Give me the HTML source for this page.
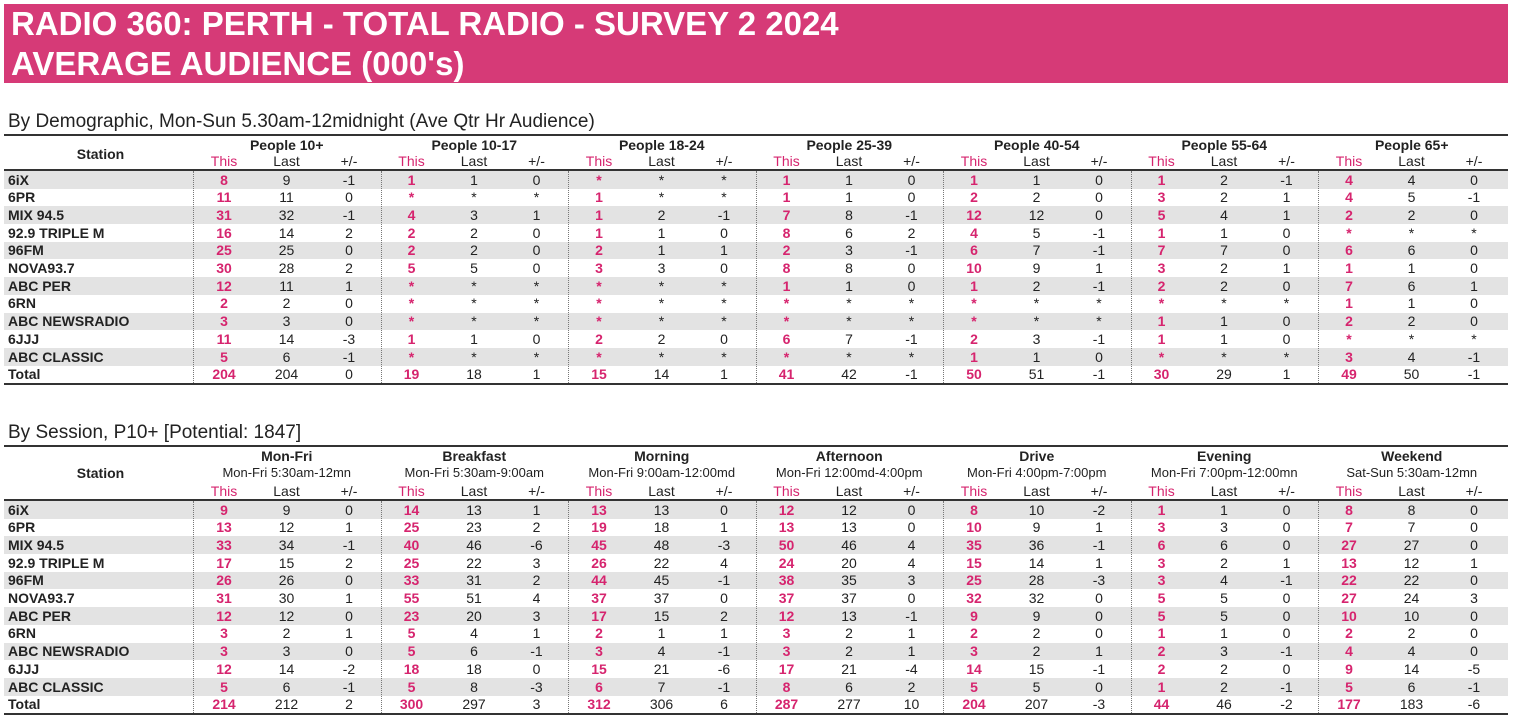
<!DOCTYPE html>
<html><head><meta charset="utf-8">
<style>
body{margin:0;width:1515px;height:724px;background:#fff;position:relative;overflow:hidden;font-family:"Liberation Sans",sans-serif;color:#222}
.a{position:absolute;white-space:nowrap}
#banner{left:4px;top:4px;width:1504px;height:79px;background:#d63a77;color:#fff;font-weight:bold;font-size:33px;line-height:40px;padding:0 0 0 7px;box-sizing:border-box}
.sec{font-size:19px;left:8px}
.hl{height:2px;background:#333;left:4px;width:1504px}
.c{text-align:center;font-size:14px}
.b{font-weight:bold}
.pk{color:#d6246e}
.row{left:4px;width:1504px;background:#e3e3e3}
.vd{width:0;border-left:1px dotted #777}
</style></head><body>
<div id="banner" class="a">RADIO 360: PERTH - TOTAL RADIO - SURVEY 2 2024<br>AVERAGE AUDIENCE (000's)</div>
<div class="a sec" style="top:111px">By Demographic, Mon-Sun 5.30am-12midnight (Ave Qtr Hr Audience)</div>
<div class="a sec" style="top:422px">By Session, P10+ [Potential: 1847]</div>
<script>
const stations=["6iX","6PR","MIX 94.5","92.9 TRIPLE M","96FM","NOVA93.7","ABC PER","6RN","ABC NEWSRADIO","6JJJ","ABC CLASSIC","Total"];
const demoGroups=["People 10+","People 10-17","People 18-24","People 25-39","People 40-54","People 55-64","People 65+"];
const sessGroups=["Mon-Fri","Breakfast","Morning","Afternoon","Drive","Evening","Weekend"];
const sessTimes=["Mon-Fri 5:30am-12mn","Mon-Fri 5:30am-9:00am","Mon-Fri 9:00am-12:00md","Mon-Fri 12:00md-4:00pm","Mon-Fri 4:00pm-7:00pm","Mon-Fri 7:00pm-12:00mn","Sat-Sun 5:30am-12mn"];
const demoData=[
"8 9 -1 1 1 0 * * * 1 1 0 1 1 0 1 2 -1 4 4 0",
"11 11 0 * * * 1 * * 1 1 0 2 2 0 3 2 1 4 5 -1",
"31 32 -1 4 3 1 1 2 -1 7 8 -1 12 12 0 5 4 1 2 2 0",
"16 14 2 2 2 0 1 1 0 8 6 2 4 5 -1 1 1 0 * * *",
"25 25 0 2 2 0 2 1 1 2 3 -1 6 7 -1 7 7 0 6 6 0",
"30 28 2 5 5 0 3 3 0 8 8 0 10 9 1 3 2 1 1 1 0",
"12 11 1 * * * * * * 1 1 0 1 2 -1 2 2 0 7 6 1",
"2 2 0 * * * * * * * * * * * * * * * 1 1 0",
"3 3 0 * * * * * * * * * * * * 1 1 0 2 2 0",
"11 14 -3 1 1 0 2 2 0 6 7 -1 2 3 -1 1 1 0 * * *",
"5 6 -1 * * * * * * * * * 1 1 0 * * * 3 4 -1",
"204 204 0 19 18 1 15 14 1 41 42 -1 50 51 -1 30 29 1 49 50 -1"];
const sessData=[
"9 9 0 14 13 1 13 13 0 12 12 0 8 10 -2 1 1 0 8 8 0",
"13 12 1 25 23 2 19 18 1 13 13 0 10 9 1 3 3 0 7 7 0",
"33 34 -1 40 46 -6 45 48 -3 50 46 4 35 36 -1 6 6 0 27 27 0",
"17 15 2 25 22 3 26 22 4 24 20 4 15 14 1 3 2 1 13 12 1",
"26 26 0 33 31 2 44 45 -1 38 35 3 25 28 -3 3 4 -1 22 22 0",
"31 30 1 55 51 4 37 37 0 37 37 0 32 32 0 5 5 0 27 24 3",
"12 12 0 23 20 3 17 15 2 12 13 -1 9 9 0 5 5 0 10 10 0",
"3 2 1 5 4 1 2 1 1 3 2 1 2 2 0 1 1 0 2 2 0",
"3 3 0 5 6 -1 3 4 -1 3 2 1 3 2 1 2 3 -1 4 4 0",
"12 14 -2 18 18 0 15 21 -6 17 21 -4 14 15 -1 2 2 0 9 14 -5",
"5 6 -1 5 8 -3 6 7 -1 8 6 2 5 5 0 1 2 -1 5 6 -1",
"214 212 2 300 297 3 312 306 6 287 277 10 204 207 -3 44 46 -2 177 183 -6"];
const subs=["This","Last","+/-"];
const G0=193,GW=187.5,RH=17.7;
function el(cls,style,txt,name,inter){const d=document.createElement('div');d.className='a '+cls;d.style.cssText=style;if(txt!==undefined)d.textContent=txt;


document.body.appendChild(d);return d;}
function colX(g,k){return G0+g*GW+31+k*62.5;}
function table(pfx,topLine,groups,times,subY,stY,data){
  el('hl','top:'+topLine+'px','',pfx+'-top-rule');
  const dataTop=subY+9;
  el('hl','top:'+(dataTop-2)+'px','',pfx+'-header-rule');
  el('c b','left:8px;width:185px;top:'+(stY-8)+'px','Station',pfx+'-station-header');
  groups.forEach((g,i)=>{
    el('c b','left:'+(G0+i*GW)+'px;width:'+GW+'px;top:'+(topLine+3)+'px',g,pfx+'-group-header');
    if(times) el('c','font-size:13px;left:'+(G0+i*GW)+'px;width:'+GW+'px;top:'+(topLine+20)+'px',times[i],pfx+'-group-timeslot');
    subs.forEach((s,k)=>{el('c'+(k==0?' pk':''),'left:'+(colX(i,k)-30)+'px;width:60px;top:'+(subY-9)+'px',s,pfx+'-subheader-'+s.replace('+/-','change').toLowerCase());});
  });
  stations.forEach((st,r)=>{
    const y=dataTop+r*RH;
    if(r%2==0) el('row','top:'+y+'px;height:'+RH+'px','',pfx+'-row-band');
    el('b','font-size:14px;left:8px;top:'+(y+0.5)+'px',st,pfx+'-station-name');
    const v=data[r].split(' ');
    v.forEach((val,j)=>{const g=Math.floor(j/3),k=j%3;
      el('c'+(k==0?' b pk':''),'left:'+(colX(g,k)-30)+'px;width:60px;top:'+(y+0.5)+'px',val,pfx+'-cell');});
  });
  const bot=dataTop+stations.length*RH;
  el('hl','top:'+bot+'px','',pfx+'-bottom-rule');
  for(let i=0;i<7;i++) el('vd','left:'+(G0+i*GW)+'px;top:'+dataTop+'px;height:'+(bot-dataTop)+'px','',pfx+'-group-divider');
}
table('demo',134,demoGroups,null,162,154,demoData);
table('sess',445,sessGroups,sessTimes,492,473,sessData);
</script>
</body></html>
